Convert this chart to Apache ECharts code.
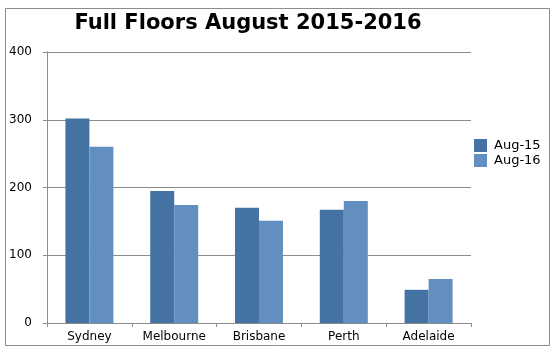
<!DOCTYPE html>
<html>
<head>
<meta charset="utf-8">
<script src="https://cdn.jsdelivr.net/npm/echarts@6/dist/echarts.min.js"></script>
<style>
  html, body { margin: 0; padding: 0; background: #fff; }
  #chart { width: 556px; height: 353px; }
</style>
</head>
<body>
<div id="chart"></div>
<script>
const cities = ['Sydney', 'Melbourne', 'Brisbane', 'Perth', 'Adelaide']
const aug15 = [302, 195, 170, 167, 49]
const aug16 = [260, 174, 151, 180, 65]
const seriesNames = ['Aug-15', 'Aug-16']

const chart = echarts.init(document.getElementById('chart'))
const font = 'DejaVu Sans, Verdana, sans-serif'

chart.setOption({
  backgroundColor: '#fff',
  animation: false,
  title: {
    text: 'Full Floors August 2015-2016',
    left: 243,
    textAlign: 'center',
    top: 8,
    textStyle: { fontFamily: font, fontWeight: 'bold', fontSize: 21, color: '#000' }
  },
  graphic: [{
    type: 'rect',
    shape: { x: 5.5, y: 8.5, width: 544, height: 337 },
    style: { fill: 'none', stroke: '#8c8c8c', lineWidth: 1 },
    silent: true
  }],
  legend: {
    orient: 'vertical',
    left: 474,
    top: 139,
    itemWidth: 13,
    itemHeight: 13,
    itemGap: 2,
    icon: 'rect',
    data: seriesNames,
    textStyle: { fontFamily: font, fontSize: 13, color: '#000', padding: [0, 0, 0, 2] },
    padding: 0
  },
  grid: { left: 47, right: 85, top: 52, bottom: 30 },
  xAxis: {
    type: 'category',
    data: cities,
    axisLine: { lineStyle: { color: '#8c8c8c' } },
    axisTick: { show: true, length: 4, lineStyle: { color: '#8c8c8c' } },
    axisLabel: { fontFamily: font, fontSize: 12, color: '#000', margin: 8 }
  },
  yAxis: {
    type: 'value',
    min: 0,
    max: 400,
    interval: 100,
    axisLine: { show: true, lineStyle: { color: '#8c8c8c' } },
    axisTick: { show: true, length: 4, lineStyle: { color: '#8c8c8c' } },
    splitLine: { lineStyle: { color: '#8c8c8c' } },
    axisLabel: { fontFamily: font, fontSize: 12, color: '#000', margin: 15 }
  },
  series: [{
    name: seriesNames[0],
    type: 'bar',
    data: aug15,
    barWidth: 24,
    barGap: '0%',
    itemStyle: { color: '#4473a3' }
  }, {
    name: seriesNames[1],
    type: 'bar',
    data: aug16,
    barWidth: 24,
    barGap: '0%',
    itemStyle: { color: '#638ec0' }
  }]
})
</script>
</body>
</html>
